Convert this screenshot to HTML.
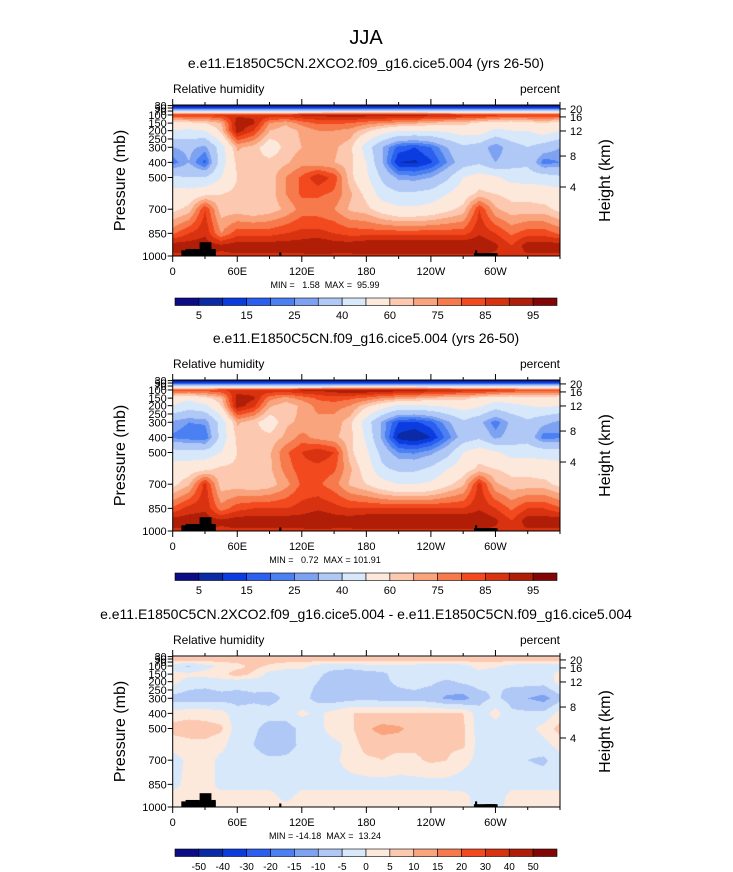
<!DOCTYPE html>
<html><head><meta charset="utf-8">
<style>
body{margin:0;background:#fff;}
svg{display:block;font-family:"Liberation Sans",Arial,sans-serif;}
text{white-space:pre;}
</style></head>
<body>
<svg id="fig" width="733" height="872" viewBox="0 0 733 872">
<text x="366" y="44" font-size="20" text-anchor="middle">JJA</text>
<g id="p0"></g><g id="p1"></g><g id="p2"></g>
</svg>
<script>
const NS="http://www.w3.org/2000/svg";
const lons=[0,15,30,45,60,75,90,105,120,135,150,165,180,195,210,225,240,255,270,285,300,315,330,345,360];
const pres=[10,50,100,150,200,300,400,500,600,700,850,925,1000];
const presFrac=[0,0.02,0.066,0.12,0.17,0.28,0.38,0.48,0.59,0.69,0.85,0.93,1];
const titles=["e.e11.E1850C5CN.2XCO2.f09_g16.cice5.004 (yrs 26-50)","e.e11.E1850C5CN.f09_g16.cice5.004 (yrs 26-50)","e.e11.E1850C5CN.2XCO2.f09_g16.cice5.004 - e.e11.E1850C5CN.f09_g16.cice5.004"];
const minmax=["MIN =   1.58  MAX =  95.99","MIN =   0.72  MAX = 101.91","MIN = -14.18  MAX =  13.24"];
const rhLevels=[5,10,15,20,25,30,40,50,60,65,70,75,80,85,90,95];
const rhLabels=["5","15","25","40","60","75","85","95"];
const diffLevels=[-50,-40,-30,-20,-15,-10,-5,0,5,10,15,20,30,40,50];
const diffLabels=["-50","-40","-30","-20","-15","-10","-5","0","5","10","15","20","30","40","50"];
const colors=["#0c0c86","#0a2aa6","#0a3ce0","#2a5ff0","#4a80f2","#7ea2f2","#b0c8f6","#d8e8fb","#fde9dc","#fcc8b0","#f9a47c","#f67a4c","#f24a1e","#d83210","#b01e08","#820606"];
const diffColors=colors;
const field0=[
[3,3,3,3,3,3,3,3,3,3,3,3,3,3,3,3,3,3,3,3,3,3,3,3,3],
[12,12,12,12,12,12,12,12,12,12,12,12,12,12,12,12,12,12,12,12,12,12,12,12,12],
[80,80,80,82,84,84,84,84,86,86,88,88,88,88,88,88,86,86,84,84,82,80,80,80,80],
[55,58,60,65,88,86,70,66,72,76,76,75,72,70,68,66,64,62,62,58,55,55,57,60,55],
[50,48,50,62,88,80,65,62,66,70,70,68,62,55,50,50,50,52,55,55,48,50,50,55,50],
[30,32,28,45,66,63,55,62,65,66,66,62,45,30,18,15,20,30,38,35,25,35,40,35,30],
[22,30,18,45,62,62,62,64,68,66,65,62,50,30,10,9,14,25,35,38,30,36,38,22,25],
[42,40,40,50,60,60,62,70,76,84,78,62,52,38,28,27,30,38,50,55,52,46,45,45,42],
[55,55,58,60,62,62,62,70,76,76,74,66,58,45,42,42,44,50,56,62,60,58,58,56,55],
[58,62,80,62,62,60,62,66,72,72,70,64,62,56,52,52,54,58,62,80,66,62,62,62,58],
[74,80,84,70,78,78,78,80,82,82,80,78,78,78,78,78,78,78,78,84,80,74,78,78,74],
[88,88,88,86,88,88,88,88,88,90,88,88,90,90,90,90,90,90,90,90,86,80,88,88,88],
[84,84,84,84,84,84,84,84,84,84,84,84,84,84,84,84,84,84,84,84,84,84,84,84,84]];
const field1=[
[3,3,3,3,3,3,3,3,3,3,3,3,3,3,3,3,3,3,3,3,3,3,3,3,3],
[12,12,12,12,12,12,12,12,12,12,12,12,12,12,12,12,12,12,12,12,12,12,12,12,12],
[78,78,78,80,82,82,84,84,86,86,88,90,90,90,88,88,86,86,84,84,82,80,78,78,78],
[55,52,58,64,88,86,72,68,72,76,78,76,74,70,68,66,64,62,62,58,55,55,57,58,55],
[50,45,48,60,88,82,66,62,66,72,72,70,62,55,48,48,50,52,55,52,45,48,50,52,50],
[28,25,26,44,66,62,55,64,66,68,68,62,45,28,15,14,18,28,38,32,22,32,38,32,28],
[24,22,20,44,62,62,62,66,72,68,66,62,48,28,8,5,10,22,34,38,28,34,36,22,24],
[44,44,44,50,60,60,64,74,80,84,80,62,52,36,25,24,28,36,50,56,52,46,46,46,44],
[56,56,58,62,62,62,64,72,78,78,76,66,56,42,38,38,42,50,56,62,60,58,58,56,56],
[58,64,82,62,62,60,62,68,76,76,72,64,60,54,50,50,52,58,64,82,66,62,62,62,58],
[76,82,84,72,78,80,80,80,82,84,82,80,80,80,80,80,80,80,80,84,80,74,80,80,76],
[88,88,88,86,88,88,88,88,88,90,88,88,90,90,90,90,90,90,90,90,86,80,88,88,88],
[84,84,84,84,84,84,84,84,84,84,84,84,84,84,84,84,84,84,84,84,84,84,84,84,84]];
const field2=[
[3,3,3,3,3,3,3,3,3,3,3,3,3,3,3,3,3,3,3,3,3,3,3,3,3],
[8,8,8,8,8,8,8,8,8,8,8,8,8,8,8,8,8,8,8,8,8,8,8,8,8],
[-3,-6,-2,1,3,7,4,2,2,-2,-3,-3,-2,-2,-2,-2,-3,-3,-2,2,1,-2,-3,-3,-3],
[2,1,2,3,8,4,-2,-3,-3,-4,-7,-8,-7,-6,-3,-3,-2,-2,-2,-2,-4,-3,-3,-3,2],
[2,-2,-3,-2,-3,-3,-2,-3,-3,-5,-8,-8,-7,-6,-4,-3,-4,-6,-4,-3,-5,-4,-3,-3,2],
[-7,-8,-8,-7,-7,-6,-7,-4,-3,-7,-8,-7,-6,-7,-7,-7,-8,-11,-12,-7,-4,-7,-10,-12,-7],
[2,3,3,2,-3,-3,-3,-2,1,-1,2,5,5,5,5,5,5,5,5,-3,2,-4,-4,-4,2],
[7,8,7,6,-3,-4,-7,-8,-3,-2,3,4,9,12,11,8,6,7,6,-3,-3,-3,-2,2,7],
[2,3,4,2,-4,-5,-8,-7,-4,-3,-2,2,7,7,7,6,7,6,6,-2,-2,-3,-3,-2,2],
[-2,1,3,-2,-3,-3,-4,-4,-3,-2,-1,2,4,5,3,4,6,5,2,-2,-2,-3,-5,-6,-2],
[-2,2,3,-2,-2,-2,-2,-2,-2,-2,-2,-2,-2,-2,-2,-2,-2,-2,-3,-2,-3,-2,-2,-2,-2],
[2,2,2,2,2,2,2,-2,2,2,2,2,2,2,2,2,2,2,2,-3,-3,2,2,2,2],
[2,2,2,2,2,2,2,2,2,2,2,2,2,2,2,2,2,2,2,-2,-2,2,2,2,2]];
const fields=[field0,field1,field2];
const landLon0=[8,12,25,36,99,280,281,290];
const landLon1=[40,25,36,40,101,300,283,302];
const landP=[960,950,905,950,975,980,960,980];
const xLabels=["0","60E","120E","180","120W","60W"];
const pLabels=["1000","850","700","500","400","300","250","200","150","100","70","50","30"];
const pLabelFrac=[1,0.85,0.69,0.48,0.38,0.28,0.225,0.17,0.12,0.066,0.04,0.02,0.004];
const hLabels=["20","16","12","8","4"];
const hFrac=[0.026,0.079,0.172,0.338,0.543];

const PX=172.7,PW=387.3,PH=151,offs=[105,380,656];
function xs(lon){return PX+lon/360*PW;}
function pToFrac(p){for(let i=0;i<pres.length-1;i++){if(p>=pres[i]&&p<=pres[i+1]){return presFrac[i]+(p-pres[i])/(pres[i+1]-pres[i])*(presFrac[i+1]-presFrac[i]);}}return 1;}
function mk(tag,attrs,parent){const e=document.createElementNS(NS,tag);for(const k in attrs)e.setAttribute(k,attrs[k]);parent.appendChild(e);return e;}
function txt(parent,x,y,s,size,anchor,str){const t=mk("text",{x:x,y:y,"font-size":size,"text-anchor":anchor},parent);t.textContent=str;return t;}

for(let pi=0;pi<3;pi++){
  const g=document.getElementById("p"+pi),T=offs[pi];
  const F=fields[pi],lev=pi<2?rhLevels:diffLevels,cols=pi<2?colors:diffColors;
  
  
  let t=txt(g,366,T-37,0,14,"middle",titles[pi]);
  
  
  t=txt(g,173,T-12,0,12,"start","Relative humidity");
  
  
  t=txt(g,560,T-12,0,12,"end","percent");
  
  
  const W=Math.round(PW),H=PH;
  const cv=document.createElement("canvas");cv.width=W;cv.height=H;
  const cx=cv.getContext("2d");const img=cx.createImageData(W,H);
  const rgb=cols.map(c=>[parseInt(c.substr(1,2),16),parseInt(c.substr(3,2),16),parseInt(c.substr(5,2),16)]);
  for(let py=0;py<H;py++){
    const fy=(py+0.5)/H;let r=0;while(r<presFrac.length-2&&fy>presFrac[r+1])r++;
    const ty=(fy-presFrac[r])/(presFrac[r+1]-presFrac[r]);
    for(let px=0;px<W;px++){
      const lon=(px+0.5)/W*360;let c=Math.min(23,Math.floor(lon/15));const tx=(lon-lons[c])/15;
      const v=(F[r][c]*(1-tx)+F[r][c+1]*tx)*(1-ty)+(F[r+1][c]*(1-tx)+F[r+1][c+1]*tx)*ty;
      let k=0;while(k<lev.length&&v>=lev[k])k++;
      const col=rgb[k],o=(py*W+px)*4;img.data[o]=col[0];img.data[o+1]=col[1];img.data[o+2]=col[2];img.data[o+3]=255;
    }
  }
  cx.putImageData(img,0,0);
  const im=mk("image",{x:PX,y:T,width:PW,height:PH,preserveAspectRatio:"none",href:cv.toDataURL()},g);
  
  
  for(let i=0;i<landLon0.length;i++){
    const y=T+pToFrac(landP[i])*PH;
    const rc=mk("rect",{x:xs(landLon0[i]),y:y,width:xs(landLon1[i])-xs(landLon0[i]),height:T+PH-y,fill:"#000"},g);
    
    
  }
  const fr=mk("rect",{x:PX,y:T,width:PW,height:PH,fill:"none",stroke:"#000","stroke-width":1},g);
  
  
  for(let i=0;i<=12;i++){const x=xs(i*30);const major=i%2==0&&i<12;
    mk("line",{x1:x,x2:x,y1:T+PH,y2:T+PH+(major?6:3),stroke:"#000"},g);
    mk("line",{x1:x,x2:x,y1:T,y2:T-(major?6:3),stroke:"#000"},g);}
  for(let i=0;i<xLabels.length;i++){t=txt(g,xs(i*60),T+PH+19,0,11,"middle",xLabels[i]);
    
    }
  for(let i=0;i<pLabels.length;i++){const y=T+pLabelFrac[i]*PH;
    mk("line",{x1:PX,x2:PX-5,y1:y,y2:y,stroke:"#000"},g);
    t=txt(g,PX-6,y+4,0,11,"end",pLabels[i]);
    
    }
  for(let i=0;i<hLabels.length;i++){const y=T+hFrac[i]*PH;
    mk("line",{x1:PX+PW,x2:PX+PW+6,y1:y,y2:y,stroke:"#000"},g);
    t=txt(g,PX+PW+10,y+4,0,11,"start",hLabels[i]);
    
    }
  t=txt(g,0,0,0,16,"middle","Pressure (mb)");t.setAttribute("transform","translate(125,"+(T+PH/2)+") rotate(-90)");
  
  
  t=txt(g,0,0,0,16,"middle","Height (km)");t.setAttribute("transform","translate(610,"+(T+PH/2)+") rotate(-90)");
  
  
  t=txt(g,325,T+PH+32,0,9,"middle",minmax[pi]);
  t.setAttribute("xml:space","preserve");
  
  
  const cy=T+193,cw=(557-175)/16;
  for(let i=0;i<16;i++){const r=mk("rect",{x:175+i*cw,y:cy,width:cw,height:7.5,fill:cols[i],stroke:"#000","stroke-width":0.6},g);
    
    }
  const labs=pi<2?rhLabels:diffLabels,step=pi<2?2:1;
  for(let i=0;i<labs.length;i++){t=txt(g,175+(1+i*step)*cw,cy+21,0,pi<2?11:10,"middle",labs[i]);
    
    }
}
</script>
</body></html>
